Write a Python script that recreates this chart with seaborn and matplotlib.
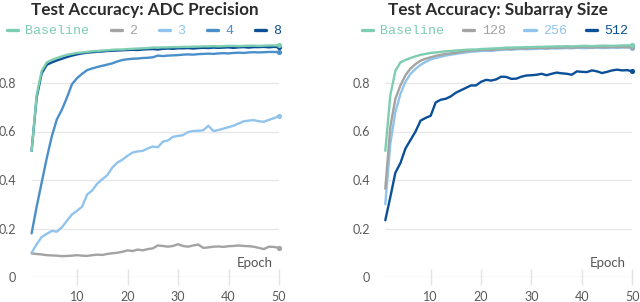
import numpy as np
import pandas as pd
import matplotlib
matplotlib.use("Agg")
import matplotlib.pyplot as plt
from matplotlib.lines import Line2D
from matplotlib.font_manager import FontProperties
import seaborn as sns

epochs = list(range(1, 51))

baseline = [0.52, 0.75, 0.85, 0.885, 0.895, 0.903, 0.91, 0.916, 0.92, 0.924,
            0.926, 0.928, 0.931, 0.932, 0.934, 0.935, 0.937, 0.938, 0.938, 0.940,
            0.941, 0.942, 0.943, 0.944, 0.946, 0.946, 0.947, 0.947, 0.948, 0.948,
            0.949, 0.949, 0.950, 0.950, 0.951, 0.951, 0.952, 0.951, 0.952, 0.953,
            0.953, 0.952, 0.953, 0.954, 0.954, 0.953, 0.954, 0.955, 0.955, 0.955]

adc_8 = [0.52, 0.74, 0.84, 0.875, 0.885, 0.893, 0.9, 0.907, 0.913, 0.918,
         0.922, 0.925, 0.927, 0.929, 0.93, 0.932, 0.933, 0.934, 0.935, 0.936,
         0.937, 0.936, 0.938, 0.939, 0.940, 0.938, 0.941, 0.942, 0.941, 0.943,
         0.943, 0.944, 0.942, 0.944, 0.945, 0.944, 0.946, 0.945, 0.946, 0.947,
         0.945, 0.947, 0.948, 0.946, 0.948, 0.948, 0.949, 0.947, 0.949, 0.948]

adc_4 = [0.18, 0.29, 0.39, 0.49, 0.58, 0.65, 0.69, 0.74, 0.795, 0.82,
         0.838, 0.853, 0.86, 0.866, 0.871, 0.876, 0.881, 0.889, 0.895, 0.898,
         0.9, 0.901, 0.903, 0.904, 0.906, 0.913, 0.911, 0.913, 0.914, 0.915,
         0.917, 0.918, 0.917, 0.919, 0.92, 0.921, 0.92, 0.922, 0.923, 0.922,
         0.924, 0.925, 0.924, 0.926, 0.927, 0.926, 0.927, 0.928, 0.928, 0.927]

adc_3 = [0.10, 0.135, 0.165, 0.178, 0.19, 0.187, 0.205, 0.232, 0.258, 0.273,
         0.29, 0.34, 0.357, 0.385, 0.403, 0.42, 0.452, 0.472, 0.484, 0.5,
         0.513, 0.518, 0.52, 0.53, 0.538, 0.535, 0.558, 0.563, 0.578, 0.582,
         0.585, 0.598, 0.602, 0.603, 0.605, 0.624, 0.602, 0.606, 0.612, 0.618,
         0.624, 0.633, 0.642, 0.645, 0.647, 0.642, 0.64, 0.648, 0.655, 0.664]

adc_2 = [0.097, 0.095, 0.093, 0.09, 0.089, 0.088, 0.086, 0.087, 0.088, 0.09,
         0.088, 0.087, 0.09, 0.092, 0.091, 0.095, 0.098, 0.1, 0.104, 0.11,
         0.107, 0.113, 0.11, 0.115, 0.118, 0.13, 0.128, 0.125, 0.128, 0.135,
         0.128, 0.125, 0.13, 0.134, 0.12, 0.122, 0.125, 0.126, 0.124, 0.127,
         0.128, 0.13, 0.128, 0.127, 0.125, 0.12, 0.115, 0.125, 0.124, 0.12]

sub_128 = [0.364, 0.62, 0.735, 0.79, 0.832, 0.86, 0.878, 0.892, 0.9, 0.906,
           0.912, 0.916, 0.92, 0.922, 0.925, 0.928, 0.931, 0.934, 0.934, 0.936,
           0.937, 0.936, 0.938, 0.94, 0.941, 0.94, 0.942, 0.943, 0.942, 0.944,
           0.944, 0.945, 0.943, 0.945, 0.946, 0.945, 0.947, 0.946, 0.947, 0.948,
           0.947, 0.946, 0.948, 0.948, 0.947, 0.949, 0.948, 0.949, 0.948, 0.949]

sub_256 = [0.30, 0.55, 0.68, 0.755, 0.805, 0.838, 0.858, 0.875, 0.887, 0.897,
           0.903, 0.908, 0.913, 0.917, 0.92, 0.923, 0.926, 0.929, 0.93, 0.932,
           0.933, 0.932, 0.935, 0.936, 0.938, 0.937, 0.939, 0.94, 0.939, 0.94,
           0.941, 0.942, 0.941, 0.943, 0.942, 0.943, 0.944, 0.943, 0.945, 0.944,
           0.944, 0.945, 0.946, 0.944, 0.945, 0.946, 0.945, 0.946, 0.946, 0.945]

sub_512 = [0.234, 0.33, 0.43, 0.47, 0.53, 0.565, 0.6, 0.645, 0.656, 0.665,
           0.72, 0.731, 0.735, 0.745, 0.76, 0.77, 0.78, 0.79, 0.79, 0.805,
           0.813, 0.81, 0.815, 0.826, 0.825, 0.817, 0.818, 0.826, 0.831, 0.832,
           0.834, 0.838, 0.832, 0.838, 0.843, 0.84, 0.838, 0.834, 0.848, 0.846,
           0.845, 0.852, 0.848, 0.841, 0.846, 0.852, 0.855, 0.852, 0.853, 0.848]

left_labels = ["Baseline", "2", "3", "4", "8"]
left_series = [baseline, adc_2, adc_3, adc_4, adc_8]
right_labels = ["Baseline", "128", "256", "512"]
right_series = [baseline, sub_128, sub_256, sub_512]
x_ticks = [10, 20, 30, 40, 50]
y_ticks = [0, 0.2, 0.4, 0.6, 0.8]
y_tick_labels = ["0", "0.2", "0.4", "0.6", "0.8"]

C_BASE = "#7dcdb0"
C_GRAY = "#a3a3a3"
C_LIGHT = "#91c4ec"
C_MED = "#4b8fca"
C_NAVY = "#0a4f97"
left_colors = {"Baseline": C_BASE, "2": C_GRAY, "3": C_LIGHT, "4": C_MED, "8": C_NAVY}
right_colors = {"Baseline": C_BASE, "128": C_GRAY, "256": C_LIGHT, "512": C_NAVY}

sns.set_theme(style="white")
plt.rcParams["font.family"] = ["Lato", "DejaVu Sans"]

fig = plt.figure(figsize=(6.4, 3.02), dpi=100)
W, H = 640, 302


def make_ax(x0, x1):
    y0 = 277
    y1 = 34.5
    return fig.add_axes([x0 / W, 1 - y0 / H, (x1 - x0) / W, (y0 - y1) / H])


ax1 = make_ax(31.6, 279)
ax2 = make_ax(385.3, 632.3)


def draw(ax, labels, series, colors, draw_order):
    df = pd.DataFrame({
        "epoch": np.tile(epochs, len(labels)),
        "acc": np.concatenate(series),
        "run": np.repeat(labels, len(epochs)),
    })
    for lab in draw_order:
        sub = df[df["run"] == lab]
        sns.lineplot(data=sub, x="epoch", y="acc", color=colors[lab], lw=1.7,
                     ax=ax, legend=False, clip_on=False)
        last = sub[sub["epoch"] == sub["epoch"].max()]
        sns.scatterplot(data=last, x="epoch", y="acc", color=colors[lab], s=14,
                        edgecolor=colors[lab], linewidth=0, ax=ax, legend=False,
                        clip_on=False, zorder=5)
    ax.set_xlim(1, 50)
    ax.set_ylim(0, 1.0)
    ax.set_xticks(x_ticks)
    ax.set_yticks(y_ticks)
    ax.set_yticklabels(y_tick_labels)
    ax.set_xlabel("")
    ax.set_ylabel("")
    for s in ax.spines.values():
        s.set_visible(False)
    ax.grid(axis="y", color="#e8e8e8", lw=1.0)
    ax.grid(axis="x", visible=False)
    ax.set_axisbelow(True)
    ax.tick_params(axis="x", direction="inout", length=12, width=1.0,
                   color="#e3e3e3", labelsize=9, labelcolor="#5a5a5a", pad=4,
                   bottom=True)
    ax.tick_params(axis="y", length=0, labelsize=9, labelcolor="#5a5a5a", pad=11)
    ax.text(0.975, 0.035, "Epoch", transform=ax.transAxes, ha="right", va="bottom",
            fontsize=9.5, color="#555555")


draw(ax1, left_labels, left_series, left_colors, ["2", "3", "4", "8", "Baseline"])
draw(ax2, right_labels, right_series, right_colors, ["512", "256", "128", "Baseline"])

fig.text(145 / W, 1 - 10 / H, "Test Accuracy: ADC Precision", ha="center", va="center",
         fontsize=12.3, fontweight="bold", color="#2b2b2b")
fig.text(497.5 / W, 1 - 10 / H, "Test Accuracy: Subarray Size", ha="center", va="center",
         fontsize=12.3, fontweight="bold", color="#2b2b2b")

mono = FontProperties(family="Liberation Mono", size=9.6)


def add_legend(ax, labels, colors, x_px, colspace):
    handles = [Line2D([0], [0], color=colors[l], lw=2.4) for l in labels]
    leg = ax.legend(handles, labels, ncol=len(labels), loc="center left",
                    bbox_to_anchor=(x_px / W, 1 - 31 / H), bbox_transform=fig.transFigure,
                    frameon=False, prop=mono, handlelength=0.85, handletextpad=0.55,
                    columnspacing=colspace, borderpad=0, borderaxespad=0)
    for t, l in zip(leg.get_texts(), labels):
        t.set_color(colors[l])


add_legend(ax1, left_labels, left_colors, 6.7, 1.6)
add_legend(ax2, right_labels, right_colors, 361.7, 1.4)

fig.savefig("out.png", dpi=100)
